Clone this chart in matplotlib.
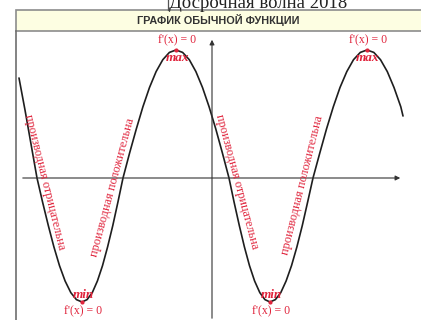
import matplotlib
matplotlib.use("Agg")
import matplotlib.pyplot as plt
from matplotlib.patches import Rectangle
from matplotlib.lines import Line2D

# curve (y-axis at x=0, x-axis at y=0)
curve_x = [-19.3, -18.7, -18.1, -17.5,
           -16.94, -16.37, -15.81, -15.25, -14.69, -14.12, -13.56, -13.0,
           -12.49, -11.97, -11.46, -10.95, -10.44, -9.92, -9.41, -8.9,
           -8.24, -7.57, -6.91, -6.25, -5.59, -4.92, -4.26, -3.6,
           -2.94, -2.27, -1.61, -0.95, -0.29, 0.38, 1.04, 1.7,
           2.21, 2.73, 3.24, 3.75, 4.26, 4.78, 5.29, 5.8,
           6.34, 6.88, 7.41, 7.95, 8.49, 9.03, 9.56, 10.1,
           10.78, 11.45, 12.13, 12.8, 13.48, 14.15, 14.83, 15.5,
           16.18, 16.85, 17.53, 18.2, 18.88, 19.1]
curve_y = [10.0, 6.8, 3.4, 0.0,
           -2.42, -4.75, -6.89, -8.77, -10.30, -11.46, -12.16, -12.40,
           -12.16, -11.46, -10.30, -8.77, -6.89, -4.75, -2.42, 0.0,
           2.50, 4.90, 7.12, 9.05, 10.64, 11.83, 12.56, 12.80,
           12.56, 11.83, 10.64, 9.05, 7.12, 4.90, 2.50, 0.0,
           -2.42, -4.75, -6.89, -8.77, -10.30, -11.46, -12.16, -12.40,
           -12.16, -11.46, -10.30, -8.77, -6.89, -4.75, -2.42, 0.0,
           2.50, 4.90, 7.12, 9.05, 10.64, 11.83, 12.56, 12.80,
           12.56, 11.83, 10.64, 9.05, 7.12, 6.2]

max_x = [-3.6, 15.5]
max_y = [12.8, 12.8]
min_x = [-13.0, 5.8]
min_y = [-12.4, -12.4]

# sloped captions: text, x, y, rotation
slope_text = ["производная отрицательна", "производная положительна",
              "производная отрицательна", "производная положительна"]
slope_x = [-16.7, -9.9, 2.5, 9.0]
slope_y = [-0.4, -0.9, -0.4, -0.7]
slope_rot = [-76, 75, -75, 76]

title = "ГРАФИК ОБЫЧНОЙ ФУНКЦИИ"
caption = "Досрочная волна 2018"

red = "#e0243c"
serif = ["Liberation Serif", "DejaVu Serif"]

W, H = 421, 320
fig = plt.figure(figsize=(W / 100, H / 100), dpi=100)
fig.patch.set_facecolor("white")

ax = fig.add_axes([16 / W, 0, 405 / W, 289 / H])
ax.set_xlim(-19.6, 20.9)
ax.set_ylim(-14.2, 14.7)
ax.axis("off")

# coordinate axes with arrows
ax.annotate("", xy=(19.1, 0), xytext=(-19.2, 0),
            arrowprops=dict(arrowstyle="-|>", color="#333333", lw=0.8, mutation_scale=7))
ax.annotate("", xy=(0, 14.1), xytext=(0, -14.3),
            arrowprops=dict(arrowstyle="-|>", color="#333333", lw=0.8, mutation_scale=7))

ax.plot(curve_x, curve_y, color="#1e1e1e", lw=1.2, solid_capstyle="round")
ax.plot(max_x, max_y, "o", color=red, ms=2)
ax.plot(min_x, min_y, "o", color=red, ms=2)

for x, y in zip(max_x, max_y):
    ax.text(x + 0.1, y + 0.35, "f'(x) = 0", color=red, fontsize=8.5, family=serif,
            ha="center", va="bottom")
    ax.text(x + 0.1, y - 0.8, "max", color=red, fontsize=9.5, family=serif,
            style="italic", weight="bold", ha="center", va="center")
for x, y in zip(min_x, min_y):
    ax.text(x + 0.1, y + 0.7, "min", color=red, fontsize=9.5, family=serif,
            style="italic", weight="bold", ha="center", va="center")
    ax.text(x + 0.1, y - 0.95, "f'(x) = 0", color=red, fontsize=8.5, family=serif,
            ha="center", va="center")

for t, x, y, r in zip(slope_text, slope_x, slope_y, slope_rot):
    ax.text(x, y, t, color=red, fontsize=8.8, family=serif, rotation=r,
            rotation_mode="anchor", ha="center", va="center")

# header bar and frame
fig.patches.append(Rectangle((16 / W, 1 - 31 / H), (W - 16) / W + 0.02, 21 / H,
                             transform=fig.transFigure, facecolor="#fdfee2",
                             edgecolor="#8c8c8c", lw=1.2))
fig.lines.append(Line2D([16 / W, 16 / W], [0, 1 - 31 / H], transform=fig.transFigure,
                        color="#6e6e6e", lw=1.2))
fig.lines.append(Line2D([168 / W, 168 / W], [1, 1 - 10 / H], transform=fig.transFigure,
                        color="#555555", lw=0.9))
fig.text(218 / W, 1 - 20.5 / H, title, ha="center", va="center", fontsize=7.8,
         weight="bold", color="#333333", family=["Liberation Sans", "DejaVu Sans"])
fig.text(258 / W, 1 - 7.5 / H, caption, ha="center", va="baseline", fontsize=13.5,
         color="#222222", family=serif)

fig.savefig("out.png", dpi=100)
